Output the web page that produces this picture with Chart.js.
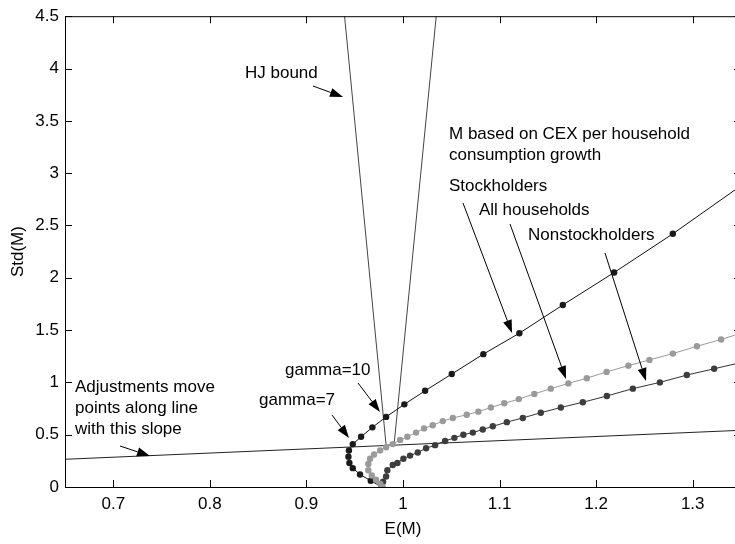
<!DOCTYPE html>
<html lang="en">
<head>
<meta charset="UTF-8">
<title>HJ bound and CEX discount factors</title>
<script src="https://cdn.jsdelivr.net/npm/chart.js"></script>
<style>
  html, body { margin: 0; padding: 0; background: #fff; overflow: hidden; }
  #wrap { width: 760px; height: 544px; }
</style>
</head>
<body>
<div id="wrap"><canvas id="chart" width="760" height="544"></canvas></div>
<script>
// axis ticks
const xTicks = [0.7, 0.8, 0.9, 1.0, 1.1, 1.2, 1.3];
const yTicks = [0, 0.5, 1, 1.5, 2, 2.5, 3, 3.5, 4, 4.5];

// Hansen-Jagannathan bound
const hjE   = [0.9395, 0.9825, 0.9907, 1.0344];
const hjStd = [4.5, 0.40, 0.40, 4.5];

// line showing the direction of adjustments
const adjE   = [0.65, 1.35];
const adjStd = [0.265, 0.542];

// gamma = 0, 1, 2, ... dots, stockholders
const stockE   = [0.978, 0.9666, 0.9555, 0.948, 0.9445, 0.9435, 0.944, 0.948, 0.9566, 0.9683, 0.9825,
                  1.0014, 1.0229, 1.0505, 1.0832, 1.1205, 1.1655, 1.2186, 1.2794];
const stockStd = [0, 0.06, 0.12, 0.18, 0.23, 0.29, 0.35, 0.41, 0.48, 0.57, 0.67,
                  0.79, 0.92, 1.08, 1.27, 1.47, 1.74, 2.05, 2.42];
const stockTail = [1.35, 2.88];

// all households
const allE   = [0.979, 0.9765, 0.972, 0.9677, 0.9641, 0.9641, 0.9659, 0.970, 0.9763, 0.9825, 0.9894,
                0.997, 1.0045, 1.0135, 1.0218, 1.0308, 1.0412, 1.0516, 1.066, 1.078, 1.091, 1.1049,
                1.1199, 1.136, 1.153, 1.1712, 1.1903, 1.2108, 1.2334, 1.2552, 1.2794, 1.3043, 1.3294];
const allStd = [0, 0.03, 0.07, 0.11, 0.16, 0.22, 0.27, 0.31, 0.35, 0.38, 0.41,
                0.45, 0.48, 0.52, 0.56, 0.59, 0.63, 0.66, 0.69, 0.72, 0.76, 0.80,
                0.84, 0.89, 0.94, 0.99, 1.04, 1.10, 1.16, 1.215, 1.275, 1.345, 1.41];
const allTail = [1.35, 1.47];

// nonstockholders
const nonE   = [0.978, 0.9794, 0.9825, 0.9838, 0.9894, 0.9942, 1.0004, 1.0073, 1.0153, 1.0239, 1.0332,
                1.0436, 1.0532, 1.0625, 1.0723, 1.0826, 1.093, 1.1075, 1.1241, 1.1427, 1.1634,
                1.1862, 1.2111, 1.238, 1.266, 1.2939, 1.3222];
const nonStd = [0, 0.05, 0.10, 0.16, 0.21, 0.23, 0.27, 0.30, 0.33, 0.37, 0.40,
                0.44, 0.47, 0.50, 0.52, 0.55, 0.58, 0.62, 0.66, 0.71, 0.76,
                0.81, 0.87, 0.94, 1.00, 1.07, 1.13];
const nonTail = [1.35, 1.19];

const FONT = '17px "Liberation Sans", Arial, sans-serif';

function pts(xs, ys, tail) {
    const out = xs.map((v, i) => ({x: v, y: ys[i]}));
    if (tail) out.push({x: tail[0], y: tail[1]});
    return out;
}

function curve(xs, ys, tail, color, dotColor) {
    const n = xs.length;
    return {
        data: pts(xs, ys, tail),
        borderColor: color,
        borderWidth: 1,
        backgroundColor: dotColor,
        pointBackgroundColor: dotColor,
        pointBorderWidth: 0,
        pointRadius: c => c.dataIndex < n ? 3.2 : 0,
        showLine: true,
        tension: 0
    };
}

// box + inward tick marks, like the original figure
const frame = {
    id: 'frame',
    afterDraw(chart) {
        const {ctx, chartArea: a, scales: {x, y}} = chart;
        ctx.save();
        ctx.strokeStyle = '#000';
        ctx.lineWidth = 1;
        ctx.strokeRect(a.left + 0.5, a.top + 0.5, a.right - a.left, a.bottom - a.top);
        ctx.beginPath();
        xTicks.forEach(v => {
            const px = Math.round(x.getPixelForValue(v)) + 0.5;
            ctx.moveTo(px, a.bottom); ctx.lineTo(px, a.bottom - 7);
            ctx.moveTo(px, a.top); ctx.lineTo(px, a.top + 7);
        });
        yTicks.forEach(v => {
            const py = Math.round(y.getPixelForValue(v)) + 0.5;
            ctx.moveTo(a.left, py); ctx.lineTo(a.left + 7, py);
            ctx.moveTo(a.right, py); ctx.lineTo(a.right - 7, py);
        });
        ctx.stroke();
        ctx.restore();
    }
};

function arrow(ctx, x1, y1, x2, y2) {
    const ang = Math.atan2(y2 - y1, x2 - x1);
    const len = 13, half = 4.5;
    ctx.beginPath();
    ctx.moveTo(x1, y1);
    ctx.lineTo(x2 - Math.cos(ang) * len, y2 - Math.sin(ang) * len);
    ctx.stroke();
    ctx.beginPath();
    ctx.moveTo(x2, y2);
    ctx.lineTo(x2 - Math.cos(ang) * len - Math.sin(ang) * half, y2 - Math.sin(ang) * len + Math.cos(ang) * half);
    ctx.lineTo(x2 - Math.cos(ang) * len + Math.sin(ang) * half, y2 - Math.sin(ang) * len - Math.cos(ang) * half);
    ctx.closePath();
    ctx.fill();
}

const notes = {
    id: 'notes',
    afterDraw(chart) {
        const ctx = chart.ctx;
        ctx.save();
        ctx.font = FONT;
        ctx.fillStyle = '#000';
        ctx.strokeStyle = '#000';
        ctx.lineWidth = 1;
        ctx.textBaseline = 'alphabetic';
        ctx.fillText('HJ bound', 245, 78);
        ctx.fillText('M based on CEX per household', 449, 139);
        ctx.fillText('consumption growth', 449, 160);
        ctx.fillText('Stockholders', 449, 191);
        ctx.fillText('All households', 479, 215);
        ctx.fillText('Nonstockholders', 528, 240);
        ctx.fillText('gamma=10', 285, 375);
        ctx.fillText('gamma=7', 259, 405);
        ctx.fillText('Adjustments move', 75, 392);
        ctx.fillText('points along line', 75, 413);
        ctx.fillText('with this slope', 75, 434);

        arrow(ctx, 313, 86, 343, 97);
        arrow(ctx, 463, 203, 512, 333);
        arrow(ctx, 510, 224, 566, 379);
        arrow(ctx, 605, 253, 646, 381);
        arrow(ctx, 358, 383, 380, 412);
        arrow(ctx, 332, 415, 349, 438);
        arrow(ctx, 120, 446, 150, 456);
        ctx.restore();
    }
};

new Chart(document.getElementById('chart'), {
    type: 'scatter',
    data: {
        datasets: [
            Object.assign(curve(allE, allStd, allTail, '#999999', '#9a9a9a'), {order: 1}),
            Object.assign(curve(nonE, nonStd, nonTail, '#333333', '#3d3d3d'), {order: 2}),
            Object.assign(curve(stockE, stockStd, stockTail, '#111111', '#1a1a1a'), {order: 3}),
            {
                data: pts(hjE, hjStd),
                showLine: true,
                borderColor: '#444444',
                borderWidth: 1,
                pointRadius: 0,
                order: 4
            },
            {
                data: pts(adjE, adjStd),
                showLine: true,
                borderColor: '#222222',
                borderWidth: 1,
                pointRadius: 0,
                order: 5
            }
        ]
    },
    options: {
        responsive: false,
        animation: false,
        devicePixelRatio: 1,
        layout: { padding: { top: 12, right: 19, left: 0, bottom: 0 } },
        plugins: {
            legend: { display: false },
            tooltip: { enabled: false }
        },
        scales: {
            x: {
                type: 'linear',
                min: 0.65,
                max: 1.35,
                afterBuildTicks: s => { s.ticks = xTicks.map(v => ({value: v})); },
                afterFit: s => { s.height = 57; },
                grid: { display: false, drawTicks: false },
                border: { display: false },
                ticks: {
                    color: '#000',
                    padding: 7,
                    maxRotation: 0,
                    font: { family: '"Liberation Sans", Arial, sans-serif', size: 17 },
                    callback: v => String(Math.round(v * 10) / 10)
                },
                title: {
                    display: true,
                    text: 'E(M)',
                    color: '#000',
                    padding: { top: 0, bottom: 4 },
                    font: { family: '"Liberation Sans", Arial, sans-serif', size: 17 }
                }
            },
            y: {
                type: 'linear',
                min: 0,
                max: 4.5,
                afterBuildTicks: s => { s.ticks = yTicks.map(v => ({value: v})); },
                afterFit: s => { s.width = 65; },
                grid: { display: false, drawTicks: false },
                border: { display: false },
                ticks: {
                    color: '#000',
                    padding: 6,
                    font: { family: '"Liberation Sans", Arial, sans-serif', size: 17 },
                    callback: v => String(v)
                },
                title: {
                    display: true,
                    text: 'Std(M)',
                    color: '#000',
                    padding: { top: 8, bottom: 0 },
                    font: { family: '"Liberation Sans", Arial, sans-serif', size: 17 }
                }
            }
        }
    },
    plugins: [frame, notes]
});
</script>
</body>
</html>
